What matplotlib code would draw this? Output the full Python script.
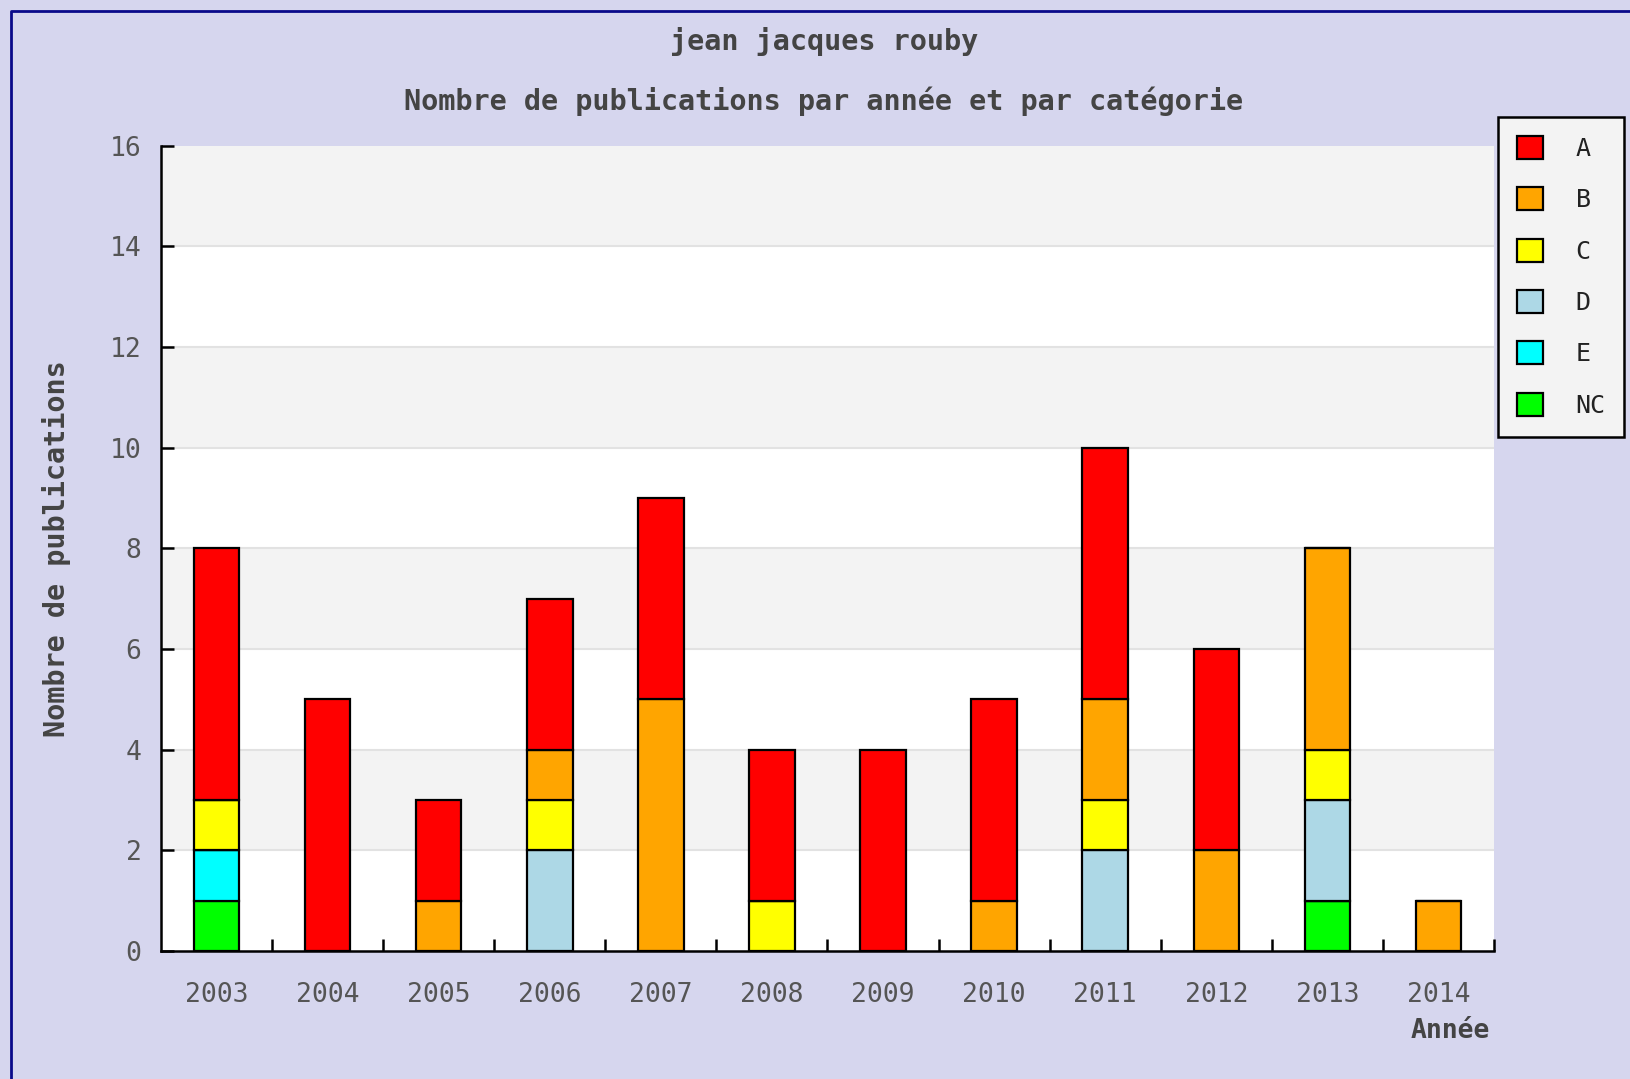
import numpy as np
import matplotlib
matplotlib.use("Agg")
import matplotlib.pyplot as plt
from matplotlib.lines import Line2D

# donnees
annees = ["2003", "2004", "2005", "2006", "2007", "2008",
          "2009", "2010", "2011", "2012", "2013", "2014"]
cat_NC = [1, 0, 0, 0, 0, 0, 0, 0, 0, 0, 1, 0]
cat_E = [1, 0, 0, 0, 0, 0, 0, 0, 0, 0, 0, 0]
cat_D = [0, 0, 0, 2, 0, 0, 0, 0, 2, 0, 2, 0]
cat_C = [1, 0, 0, 1, 0, 1, 0, 0, 1, 0, 1, 0]
cat_B = [0, 0, 1, 1, 5, 0, 0, 1, 2, 2, 4, 1]
cat_A = [5, 5, 2, 3, 4, 3, 4, 4, 5, 4, 0, 0]

# ordre d'empilement (bas -> haut)
series = [("NC", cat_NC, "#00ff00"),
          ("E", cat_E, "#00ffff"),
          ("D", cat_D, "#add8e6"),
          ("C", cat_C, "#ffff00"),
          ("B", cat_B, "#ffa500"),
          ("A", cat_A, "#ff0000")]

fond = "#d6d6ee"
gris_txt = "#555555"

fig = plt.figure(figsize=(16.3, 10.79), dpi=100, facecolor=fond)
ax = fig.add_axes([161 / 1630, 1 - 951 / 1079, (1494 - 161) / 1630, (951 - 145.5) / 1079])
ax.set_facecolor("white")

# bandes alternees
for y0 in range(0, 16, 2):
    if (y0 // 2) % 2 == 1:
        ax.axhspan(y0, y0 + 2, color="#f3f3f3", zorder=0, lw=0)
for y0 in range(2, 16, 2):
    ax.axhline(y0, color="#e2e2e2", lw=1.5, zorder=0.5)

x = np.arange(len(annees))
bas = np.zeros(len(annees))
handles = {}
for nom, vals, coul in series:
    vals = np.array(vals, dtype=float)
    b = ax.bar(x, vals, width=0.41, bottom=bas, color=coul,
               edgecolor="black", linewidth=1.6, zorder=2)
    handles[nom] = b
    bas += vals

ax.set_xlim(-0.5, len(annees) - 0.5)
ax.set_ylim(0, 16)
ax.set_yticks(range(0, 17, 2))
ax.set_xticks(x)
ax.set_xticklabels(annees)
ax.set_xticks(np.arange(0.5, len(annees), 1), minor=True)

for s in ["top", "right"]:
    ax.spines[s].set_visible(False)
for s in ["left", "bottom"]:
    ax.spines[s].set_linewidth(1.8)

ax.tick_params(axis="x", which="major", length=0, pad=22,
               labelsize=19, labelcolor=gris_txt)
ax.tick_params(axis="x", which="minor", direction="in", length=9, width=1.8)
ax.tick_params(axis="y", direction="in", length=9, width=1.8, pad=14,
               labelsize=19, labelcolor=gris_txt)
for lab in ax.get_yticklabels() + ax.get_xticklabels():
    lab.set_family("DejaVu Sans Mono")

ax.set_ylabel("Nombre de publications", fontsize=20.5, fontweight="bold",
              family="DejaVu Sans Mono", color="#444444", labelpad=28)

fig.text(1490 / 1630, 1 - 1031 / 1079, "Année", ha="right", va="center",
         fontsize=19, fontweight="bold", family="DejaVu Sans Mono", color="#444444")
fig.text(824 / 1630, 1 - 42 / 1079, "jean jacques rouby", ha="center", va="center",
         fontsize=20.5, fontweight="bold", family="DejaVu Sans Mono", color="#444444")
fig.text(824 / 1630, 1 - 101 / 1079, "Nombre de publications par année et par catégorie",
         ha="center", va="center", fontsize=20.5, fontweight="bold",
         family="DejaVu Sans Mono", color="#444444")

# legende
ordre = ["A", "B", "C", "D", "E", "NC"]
leg = fig.legend([handles[n] for n in ordre], ordre,
                 loc="upper left", bbox_to_anchor=(1498 / 1630, 1 - 117 / 1079),
                 prop={"family": "DejaVu Sans Mono", "size": 18},
                 handlelength=1.05, handleheight=1.05, labelspacing=1.05,
                 handletextpad=1.3, borderpad=0.75, borderaxespad=0,
                 fancybox=False, framealpha=1, edgecolor="black",
                 facecolor="#f3f3f3")
leg.get_frame().set_linewidth(1.8)
for t in leg.get_texts():
    t.set_color("#222222")

# cadre bleu fonce
fig.add_artist(Line2D([11 / 1630, 11 / 1630, 1], [0, 1 - 11 / 1079, 1 - 11 / 1079],
                      transform=fig.transFigure, color="#0a0a8a", lw=2))

fig.savefig("out.png", dpi=100, facecolor=fond)
